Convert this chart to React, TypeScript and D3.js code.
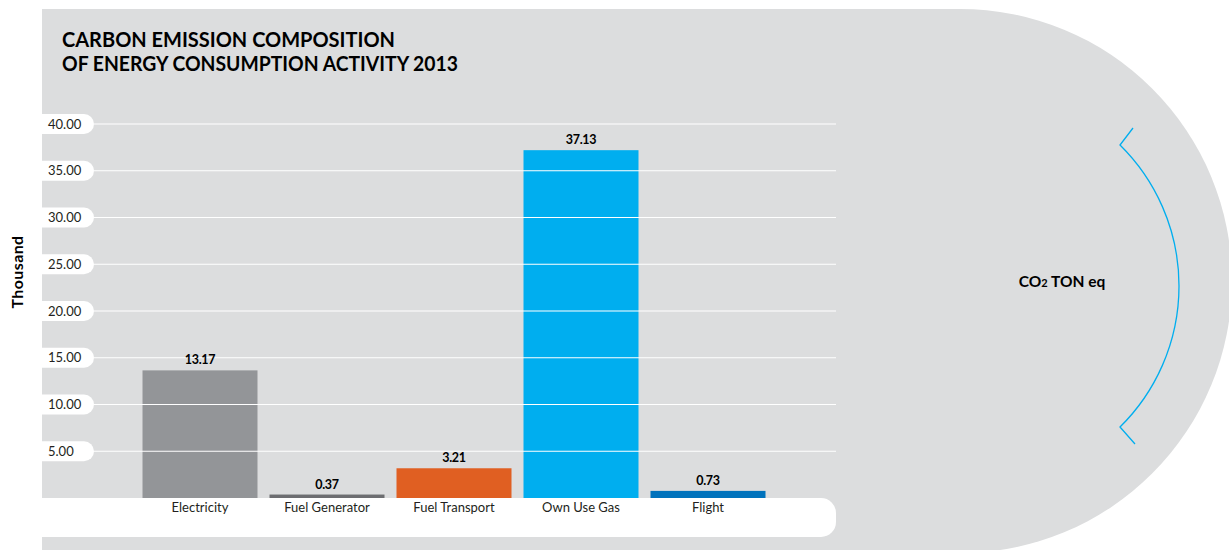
import React from "react";
import * as d3 from "d3";

const categories = ["Electricity", "Fuel Generator", "Fuel Transport", "Own Use Gas", "Flight"];
// bar heights as drawn in the picture (thousand CO2 ton eq)
const values = [13.65, 0.37, 3.18, 37.2, 0.76];
// value labels as printed on the picture
const valueLabels = ["13.17", "0.37", "3.21", "37.13", "0.73"];
const barColors = ["#939598", "#6d6e71", "#e05f22", "#00aeef", "#0072bc"];
const yTicks = [5, 10, 15, 20, 25, 30, 35, 40];
const titleLines = ["CARBON EMISSION COMPOSITION", "OF ENERGY CONSUMPTION ACTIVITY 2013"];
const yAxisTitle = "Thousand";
const unitLabel = "TON eq";

const W = 1229;
const H = 550;
const FONT = "Lato, 'Open Sans', sans-serif";
const TEXT = "#231f20";
const BG = "#dcddde";

export default function App() {
  const x = d3
    .scaleBand<string>()
    .domain(categories)
    .range([136.5, 771.5])
    .paddingInner(12 / 127)
    .paddingOuter(6 / 127);
  const y = d3.scaleLinear().domain([0, 40]).range([498, 124]);

  // background shape: rectangle with semicircular right side
  const cx = 960, top = 9, bottom = 553, r = (bottom - top) / 2;
  const bgPath = `M42,${top} H${cx} A${r},${r} 0 0 1 ${cx},${bottom} H42 Z`;

  // blue bracket arc
  const arcR = 198, arcCx = 981, arcCy = 286;
  const a0 = Math.asin(141 / arcR);
  const arcPath = d3.path();
  arcPath.moveTo(1133, 128);
  arcPath.lineTo(arcCx + arcR * Math.cos(-a0), arcCy + arcR * Math.sin(-a0));
  arcPath.arc(arcCx, arcCy, arcR, -a0, a0, false);
  arcPath.lineTo(1135, 444);

  const pillR = 15;
  const bottomPill = `M0,498 H${836 - pillR} A${pillR},${pillR} 0 0 1 836,${498 + pillR} V${537 - pillR} A${pillR},${pillR} 0 0 1 ${836 - pillR},537 H0 Z`;

  return (
    <svg width={W} height={H} style={{ position: "absolute", left: 0, top: 0 }} fontFamily={FONT}>
      <rect x={0} y={0} width={W} height={H} fill="#ffffff" />
      <path d={bgPath} fill={BG} />

      {/* title */}
      {titleLines.map((t, i) => (
        <text
          key={t}
          x={62}
          y={47 + i * 24}
          fontSize={20.5}
          fontWeight={700}
          fill="#000"
          textLength={i === 0 ? 333 : 396}
          lengthAdjust="spacingAndGlyphs"
        >
          {t}
        </text>
      ))}

      {/* y axis title */}
      <text
        transform={`translate(23,272) rotate(-90)`}
        textAnchor="middle"
        fontSize={16}
        fontWeight={700}
        letterSpacing={0.4}
        fill="#000"
      >
        {yAxisTitle}
      </text>

      {/* bars */}
      {categories.map((c, i) => (
        <rect
          key={c}
          x={x(c)}
          y={y(values[i])}
          width={x.bandwidth()}
          height={y(0) - y(values[i])}
          fill={barColors[i]}
        />
      ))}

      {/* gridlines and tick label pills */}
      {yTicks.map((t) => (
        <g key={t}>
          <line x1={94} x2={836} y1={y(t)} y2={y(t)} stroke="#ffffff" strokeWidth={1.2} />
          <path
            d={`M42,${y(t) - 10} H84 A10,10 0 0 1 84,${y(t) + 10} H42 Z`}
            fill="#ffffff"
          />
          <text x={48} y={y(t) + 4.5} fontSize={13} fill={TEXT}>
            {d3.format(".2f")(t)}
          </text>
        </g>
      ))}

      {/* value labels */}
      {categories.map((c, i) => (
        <text
          key={c}
          x={(x(c) as number) + x.bandwidth() / 2}
          y={y(values[i]) - 6}
          textAnchor="middle"
          fontSize={12.5}
          fontWeight={700}
          letterSpacing={-0.3}
          fill="#000"
        >
          {valueLabels[i]}
        </text>
      ))}

      {/* bottom category pill */}
      <path d={bottomPill} fill="#ffffff" />
      {categories.map((c) => (
        <text
          key={c}
          x={(x(c) as number) + x.bandwidth() / 2}
          y={512}
          textAnchor="middle"
          fontSize={13}
          fill={TEXT}
        >
          {c}
        </text>
      ))}

      {/* bracket and unit label */}
      <path d={arcPath.toString()} fill="none" stroke="#00aeef" strokeWidth={1.3} />
      <text x={1062} y={287} textAnchor="middle" fontSize={15.5} fontWeight={700} fill="#000">
        CO<tspan fontSize={11}>2</tspan> {unitLabel}
      </text>
    </svg>
  );
}
